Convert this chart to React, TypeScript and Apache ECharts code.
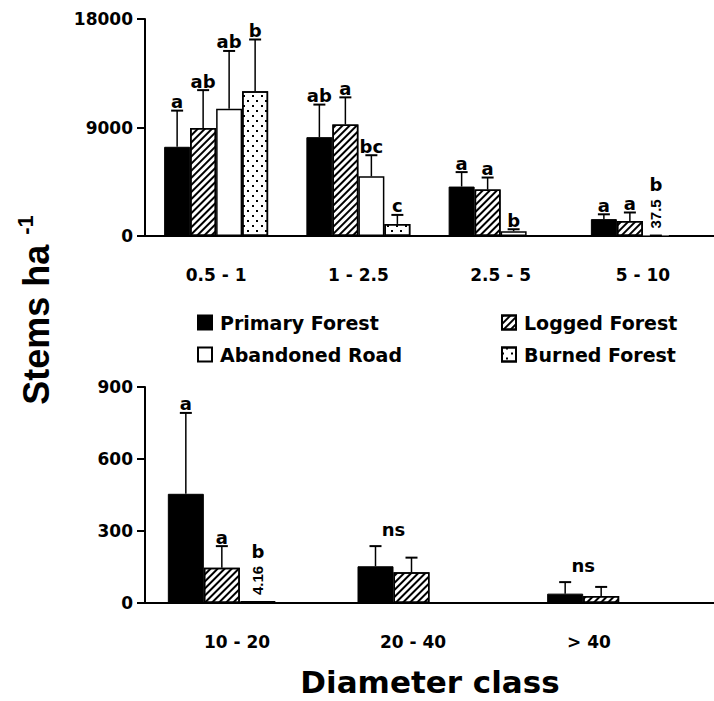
import React, { useEffect, useRef } from 'react';
import * as echarts from 'echarts';

// ---------- DATA ----------
const seriesNames = ['Primary Forest', 'Logged Forest', 'Abandoned Road', 'Burned Forest'];

const topCategories = ['0.5 - 1', '1 - 2.5', '2.5 - 5', '5 - 10'];
const topPrimary = [7400, 8200, 4100, 1400];
const topPrimaryErr = [10400, 10900, 5300, 1800];
const topLogged = [8950, 9250, 3850, 1250];
const topLoggedErr = [12100, 11500, 4850, 1950];
const topAbandoned = [10550, 4950, 400, 37.5];
const topAbandonedErr = [15350, 6700, 560, 37.5];
const topBurned = [12000, 1000, null, null];
const topBurnedErr = [16300, 1750, null, null];
const topPrimaryLetters = ['a', 'ab', 'a', 'a'];
const topLoggedLetters = ['ab', 'a', 'a', 'a'];
const topAbandonedLetters = ['ab', 'bc', 'b', 'b'];
const topBurnedLetters = ['b', 'c', '', ''];
const topAbandonedNotes = ['', '', '', '37.5'];

const bottomCategories = ['10 - 20', '20 - 40', '> 40'];
const bottomPrimary = [455, 153, 39];
const bottomPrimaryErr = [792, 237, 87];
const bottomLogged = [147, 128, 29];
const bottomLoggedErr = [237, 189, 67];
const bottomAbandoned = [4.16, null, null];
const bottomAbandonedErr = [null, null, null];
const bottomBurned = [null, null, null];
const bottomPrimaryLetters = ['a', '', ''];
const bottomLoggedLetters = ['a', '', ''];
const bottomAbandonedLetters = ['b', '', ''];
const bottomAbandonedNotes = ['4.16', '', ''];
const bottomGroupNotes = ['', 'ns', 'ns'];

const topYTicks = [0, 9000, 18000];
const bottomYTicks = [0, 300, 600, 900];

// ---------- STYLE ----------
const FONT = "'DejaVu Sans', sans-serif";
const ARIAL = "'Liberation Sans', Arial, sans-serif";
const TOP_BW = 26;
const BOT_BW = 36;

const hatch = {
  symbol: 'rect',
  symbolSize: 1,
  color: '#000',
  dashArrayX: [1, 0],
  dashArrayY: [2, 3],
  rotation: -Math.PI / 4,
};
const dots = {
  symbol: 'rect',
  symbolSize: 1,
  color: '#000',
  dashArrayX: [[1.5, 6.5], [0, 4, 1.5, 2.5]],
  dashArrayY: [1.5, 2.5],
  rotation: 0,
};
const itemStyles: any[] = [
  { color: '#000', borderColor: '#000', borderWidth: 1 },
  { color: '#fff', borderColor: '#000', borderWidth: 1.5, decal: hatch },
  { color: '#fff', borderColor: '#000', borderWidth: 1.5 },
  { color: '#fff', borderColor: '#000', borderWidth: 1.5, decal: dots },
];

type Item = { c: number; v: number; e: number | null; s: number; letter: string; note: string; lift: number };

function buildItems(values: any[][], errs: any[][], letters: string[][], notes: string[][]): Item[] {
  const out: Item[] = [];
  values.forEach((arr, s) => {
    arr.forEach((v, c) => {
      if (v === null || v === undefined) return;
      out.push({ c, v, e: errs[s][c], s, letter: letters[s][c], note: notes[s][c], lift: 0 });
    });
  });
  return out;
}

function makeRenderer(items: Item[], bw: number) {
  return (params: any, api: any) => {
    const it = items[params.dataIndex];
    const base = api.coord([it.c, it.v]);
    const x = base[0] + (it.s - 1.5) * bw;
    const children: any[] = [];
    let topY = base[1] - it.lift;
    if (it.e !== null && it.e !== undefined) {
      const t = api.coord([it.c, it.e]);
      if (it.e > it.v) {
        children.push({ type: 'line', shape: { x1: x, y1: base[1], x2: x, y2: t[1] }, style: { stroke: '#000', lineWidth: 1.5 } });
      }
      children.push({ type: 'line', shape: { x1: x - 6, y1: t[1], x2: x + 6, y2: t[1] }, style: { stroke: '#000', lineWidth: 2 } });
      topY = t[1];
    }
    if (it.note) {
      children.push({
        type: 'text', x, y: base[1] - 7, rotation: Math.PI / 2,
        style: { text: it.note, font: `bold 15px ${ARIAL}`, fill: '#000', align: 'left', verticalAlign: 'middle' },
      });
      topY = base[1] - 7 - 30 - 5;
    }
    if (it.letter) {
      children.push({
        type: 'text', x, y: topY,
        style: { text: it.letter, font: `bold 18px ${FONT}`, fill: '#000', align: 'center', verticalAlign: 'bottom' },
      });
    }
    return { type: 'group', children };
  };
}

export default function App() {
  const ref = useRef<HTMLDivElement>(null);
  useEffect(() => {
    if (!ref.current) return;
    const chart = echarts.init(ref.current, undefined, { renderer: 'svg' });

    const topValues = [topPrimary, topLogged, topAbandoned, topBurned];
    const topErrs = [topPrimaryErr, topLoggedErr, topAbandonedErr, topBurnedErr];
    const topLetters = [topPrimaryLetters, topLoggedLetters, topAbandonedLetters, topBurnedLetters];
    const topNotes = [['', '', '', ''], ['', '', '', ''], topAbandonedNotes, ['', '', '', '']];
    const topItems = buildItems(topValues, topErrs, topLetters, topNotes);

    const botValues = [bottomPrimary, bottomLogged, bottomAbandoned, bottomBurned];
    const botErrs = [bottomPrimaryErr, bottomLoggedErr, bottomAbandonedErr, [null, null, null]];
    const botLetters = [bottomPrimaryLetters, bottomLoggedLetters, bottomAbandonedLetters, ['', '', '']];
    const botNotes = [['', '', ''], ['', '', ''], bottomAbandonedNotes, ['', '', '']];
    const botItems = buildItems(botValues, botErrs, botLetters, botNotes);
    bottomGroupNotes.forEach((n, c) => {
      if (!n) return;
      const m = Math.max(bottomPrimaryErr[c], bottomLoggedErr[c]);
      botItems.push({ c, v: m, e: null, s: 0.5, letter: n, note: '', lift: 8 });
    });

    const axisLabelStyle = { color: '#000', fontFamily: FONT, fontWeight: 'bold' as const };
    const yAxisBase = (grid: number, ticks: number[]) => ({
      type: 'value', gridIndex: grid, min: ticks[0], max: ticks[ticks.length - 1], interval: ticks[1] - ticks[0],
      splitLine: { show: false },
      axisLine: { show: true, lineStyle: { color: '#000', width: 2 } },
      axisTick: { show: true, length: 8, lineStyle: { color: '#000', width: 2 } },
      axisLabel: { ...axisLabelStyle, fontSize: 17, margin: 12, formatter: (v: number) => String(v) },
    });

    const barSeries: any[] = [];
    topValues.forEach((arr, s) => {
      barSeries.push({
        type: 'bar', name: seriesNames[s], xAxisIndex: 0, yAxisIndex: 0, barWidth: TOP_BW, barGap: '0%',
        itemStyle: itemStyles[s],
        data: arr.map((v) => (v !== null && v < 100 ? { value: v, itemStyle: { borderWidth: 0 } } : v)),
      });
    });
    botValues.forEach((arr, s) => {
      barSeries.push({
        type: 'bar', name: seriesNames[s], xAxisIndex: 1, yAxisIndex: 1, barWidth: BOT_BW, barGap: '0%',
        itemStyle: itemStyles[s],
        data: arr.map((v) => (v !== null && v < 10 ? { value: v, itemStyle: { borderWidth: 3 } } : v)),
      });
    });

    const legendBase = {
      orient: 'vertical', itemWidth: 14, itemHeight: 14, itemGap: 13, icon: 'rect', selectedMode: false,
      textStyle: { color: '#000', fontFamily: FONT, fontWeight: 'bold', fontSize: 19, padding: [0, 0, 0, 3] },
    };

    chart.setOption({
      animation: false,
      backgroundColor: '#fff',
      legend: [
        { ...legendBase, left: 192, top: 308, data: [seriesNames[0], seriesNames[2]] },
        { ...legendBase, left: 496, top: 308, data: [seriesNames[1], seriesNames[3]] },
      ],
      grid: [
        { left: 145, top: 19, width: 580, height: 217 },
        { left: 145, top: 387, width: 582, height: 216 },
        { left: 149, top: 387, width: 528, height: 216 },
      ],
      xAxis: [
        {
          type: 'category', gridIndex: 0, data: topCategories,
          axisTick: { show: false }, axisLine: { lineStyle: { color: '#000', width: 2 } },
          axisLabel: { ...axisLabelStyle, fontSize: 17, margin: 30 },
        },
        {
          type: 'category', gridIndex: 1, data: bottomCategories,
          axisTick: { show: false }, axisLine: { lineStyle: { color: '#000', width: 2 } },
          axisLabel: { show: false },
        },
        {
          type: 'category', gridIndex: 2, data: bottomCategories,
          axisTick: { show: false }, axisLine: { show: false },
          axisLabel: { ...axisLabelStyle, fontSize: 17, margin: 30 },
        },
      ],
      yAxis: [
        yAxisBase(0, topYTicks),
        yAxisBase(1, bottomYTicks),
        { type: 'value', gridIndex: 2, show: false, min: 0, max: 900 },
      ],
      series: [
        ...barSeries,
        {
          type: 'custom', xAxisIndex: 0, yAxisIndex: 0, z: 5, silent: true,
          renderItem: makeRenderer(topItems, TOP_BW),
          data: topItems.map((it) => [it.c, it.v]),
        },
        {
          type: 'custom', xAxisIndex: 1, yAxisIndex: 1, z: 5, silent: true,
          renderItem: makeRenderer(botItems, BOT_BW),
          data: botItems.map((it) => [it.c, it.v]),
        },
      ],
      graphic: [
        {
          type: 'text', x: 36, y: 310, rotation: Math.PI / 2,
          style: {
            text: '{a|Stems ha }{b|-1}',
            align: 'center', verticalAlign: 'middle', fill: '#000',
            rich: {
              a: { fontFamily: ARIAL, fontWeight: 'bold', fontSize: 36, lineHeight: 44, fill: '#000' },
              b: { fontFamily: ARIAL, fontWeight: 'bold', fontSize: 22, verticalAlign: 'top', lineHeight: 44, fill: '#000' },
            },
          },
        },
        {
          type: 'text', x: 430, y: 682,
          style: { text: 'Diameter class', font: `bold 31px ${FONT}`, fill: '#000', align: 'center', verticalAlign: 'middle' },
        },
      ],
    });
    return () => chart.dispose();
  }, []);
  return <div ref={ref} style={{ width: 714, height: 701, position: 'absolute', left: 0, top: 0 }} />;
}
